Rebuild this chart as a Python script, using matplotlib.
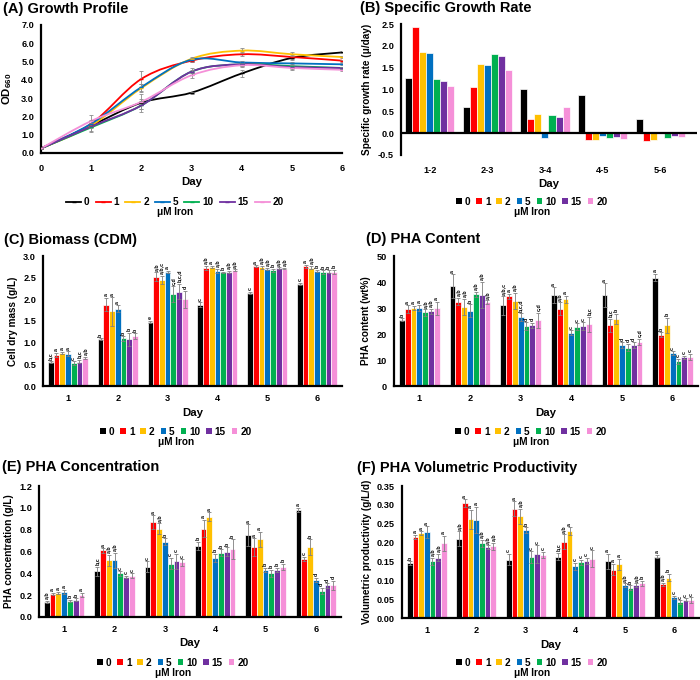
import matplotlib
matplotlib.use("Agg")
import matplotlib.pyplot as plt
import numpy as np
from matplotlib.path import Path
from matplotlib.patches import PathPatch
from matplotlib.lines import Line2D
from matplotlib.patches import Patch

plt.rcParams["font.family"] = ["Liberation Sans", "DejaVu Sans"]
plt.rcParams["font.weight"] = "bold"
plt.rcParams["axes.labelweight"] = "bold"
plt.rcParams["mathtext.fontset"] = "custom"
plt.rcParams["mathtext.rm"] = "Liberation Sans:bold"
plt.rcParams["mathtext.bf"] = "Liberation Sans:bold"

iron = ["0", "1", "2", "5", "10", "15", "20"]
colors = ["#000000", "#FF0000", "#FFC000", "#0070C0", "#00B050", "#7030A0", "#F590D8"]

# (A) growth profile, OD660 per day 0..6, one row per iron level
growth_days = [0, 1, 2, 3, 4, 5, 6]
od = [
    [0.25, 1.50, 2.75, 3.30, 4.35, 5.20, 5.50],
    [0.25, 1.60, 4.05, 5.05, 5.40, 5.25, 5.05],
    [0.25, 1.50, 3.55, 5.15, 5.60, 5.40, 5.25],
    [0.25, 1.60, 3.60, 5.10, 4.95, 4.90, 4.85],
    [0.25, 1.40, 2.60, 4.45, 4.85, 4.75, 4.65],
    [0.25, 1.45, 2.60, 4.45, 4.85, 4.70, 4.65],
    [0.25, 1.75, 2.80, 4.25, 4.80, 4.65, 4.55],
]
od_err = [
    [0.02, 0.10, 0.10, 0.05, 0.20, 0.10, 0.05],
    [0.02, 0.15, 0.45, 0.10, 0.10, 0.10, 0.05],
    [0.02, 0.15, 0.20, 0.10, 0.15, 0.10, 0.05],
    [0.02, 0.20, 0.20, 0.10, 0.10, 0.10, 0.05],
    [0.02, 0.20, 0.20, 0.10, 0.10, 0.10, 0.05],
    [0.02, 0.30, 0.35, 0.20, 0.10, 0.10, 0.05],
    [0.02, 0.35, 0.40, 0.15, 0.10, 0.10, 0.05],
]

# (B) specific growth rate
rate_periods = ["1-2", "2-3", "3-4", "4-5", "5-6"]
rate = [
    [1.27, 0.60, 1.02, 0.88, 0.32],
    [2.43, 1.05, 0.32, -0.15, -0.17],
    [1.86, 1.58, 0.43, -0.15, -0.15],
    [1.83, 1.55, -0.12, -0.06, 0.00],
    [1.23, 1.82, 0.41, -0.11, -0.11],
    [1.19, 1.77, 0.36, -0.08, -0.06],
    [1.09, 1.45, 0.59, -0.13, -0.09],
]

days = ["1", "2", "3", "4", "5", "6"]

# (C) cell dry mass g/L
cdm = [
    [0.55, 1.08, 1.48, 1.88, 2.15, 2.35],
    [0.72, 1.88, 2.52, 2.73, 2.77, 2.76],
    [0.76, 1.72, 2.45, 2.75, 2.74, 2.73],
    [0.75, 1.78, 2.63, 2.66, 2.70, 2.65],
    [0.53, 1.10, 2.12, 2.62, 2.67, 2.63],
    [0.56, 1.08, 2.18, 2.63, 2.72, 2.64],
    [0.65, 1.15, 2.00, 2.67, 2.71, 2.63],
]
cdm_err = [
    [0.02, 0.02, 0.02, 0.05, 0.03, 0.03],
    [0.05, 0.15, 0.10, 0.05, 0.02, 0.04],
    [0.03, 0.33, 0.10, 0.02, 0.04, 0.04],
    [0.05, 0.08, 0.03, 0.05, 0.03, 0.03],
    [0.04, 0.05, 0.18, 0.02, 0.03, 0.04],
    [0.04, 0.15, 0.18, 0.03, 0.02, 0.03],
    [0.02, 0.07, 0.20, 0.02, 0.02, 0.05],
]
cdm_sig = [
    ["b,c", "b", "e", "c", "c", "c"],
    ["a", "a", "a,b", "a,b", "a", "a"],
    ["a", "a", "a,b,c", "a", "a,b", "a,b"],
    ["a", "a", "a", "a,b", "a,b", "b"],
    ["c", "b", "c,d", "b", "b", "b"],
    ["b,c", "b", "b,c,d", "a,b", "a,b", "b"],
    ["a,b", "b", "d", "a,b", "a,b", "b"],
]

# (D) PHA content wt%
pha_content = [
    [25.5, 38.5, 31.0, 35.0, 35.0, 41.7],
    [29.5, 32.5, 34.5, 29.7, 23.3, 19.7],
    [30.0, 30.5, 32.8, 33.3, 25.8, 23.3],
    [30.0, 29.0, 26.5, 20.5, 15.8, 12.7],
    [28.3, 35.3, 23.0, 22.8, 14.8, 9.5],
    [28.8, 35.0, 23.3, 23.0, 15.8, 11.0],
    [30.0, 32.3, 25.2, 23.7, 17.0, 11.2],
]
pha_content_err = [
    [0.5, 4.5, 3.5, 3.0, 4.5, 1.5],
    [1.5, 1.5, 1.0, 2.5, 2.5, 1.0],
    [0.8, 3.0, 3.0, 1.3, 2.0, 3.0],
    [1.2, 2.5, 1.5, 1.0, 1.0, 0.7],
    [1.2, 1.0, 1.5, 1.3, 1.5, 1.0],
    [1.0, 5.0, 1.0, 1.5, 1.0, 0.7],
    [2.5, 0.7, 3.0, 3.0, 1.2, 1.2],
]
pha_content_sig = [
    ["b", "a", "a,b,c", "a", "a", "a"],
    ["a", "a,b", "a", "a,b", "b,c", "b"],
    ["a", "a,b", "a,b", "a", "b", "b"],
    ["a", "b", "b,c,d", "c", "d", "c"],
    ["a,b", "a,b", "d", "c", "d", "c"],
    ["a,b", "a,b", "d", "c", "d", "c"],
    ["a", "a,b", "c,d", "b,c", "c,d", "c"],
]

# (E) PHA concentration g/L
pha_conc = [
    [0.14, 0.42, 0.46, 0.65, 0.75, 0.98],
    [0.21, 0.61, 0.87, 0.81, 0.64, 0.53],
    [0.22, 0.52, 0.81, 0.92, 0.71, 0.64],
    [0.23, 0.52, 0.69, 0.54, 0.43, 0.34],
    [0.15, 0.40, 0.49, 0.59, 0.40, 0.24],
    [0.16, 0.37, 0.51, 0.60, 0.43, 0.29],
    [0.20, 0.38, 0.50, 0.62, 0.46, 0.29],
]
pha_conc_err = [
    [0.01, 0.04, 0.05, 0.04, 0.10, 0.02],
    [0.01, 0.02, 0.06, 0.08, 0.08, 0.02],
    [0.01, 0.05, 0.05, 0.04, 0.07, 0.07],
    [0.02, 0.07, 0.03, 0.04, 0.02, 0.02],
    [0.01, 0.02, 0.05, 0.03, 0.03, 0.03],
    [0.01, 0.01, 0.07, 0.04, 0.02, 0.02],
    [0.02, 0.02, 0.03, 0.09, 0.03, 0.04],
]
pha_conc_sig = [
    ["a,b", "b,c", "c", "b", "a", "a"],
    ["a", "a", "a", "a", "a", "c"],
    ["a", "a,b", "a,b", "a", "a", "b"],
    ["a", "a,b", "b", "b", "b", "d"],
    ["b", "c", "c", "b", "b", "d"],
    ["b", "c", "c", "b", "b", "d"],
    ["a", "c", "c", "b", "b", "d"],
]

# (F) volumetric productivity g/L/d
prod = [
    [0.145, 0.210, 0.155, 0.163, 0.150, 0.163],
    [0.215, 0.305, 0.290, 0.202, 0.128, 0.090],
    [0.225, 0.262, 0.270, 0.230, 0.142, 0.107],
    [0.228, 0.260, 0.233, 0.137, 0.087, 0.055],
    [0.150, 0.198, 0.162, 0.148, 0.080, 0.042],
    [0.160, 0.188, 0.170, 0.151, 0.087, 0.048],
    [0.198, 0.190, 0.168, 0.157, 0.092, 0.048],
]
prod_err = [
    [0.005, 0.020, 0.015, 0.010, 0.020, 0.005],
    [0.005, 0.010, 0.020, 0.020, 0.015, 0.004],
    [0.005, 0.025, 0.020, 0.010, 0.015, 0.010],
    [0.015, 0.035, 0.008, 0.010, 0.005, 0.004],
    [0.010, 0.010, 0.015, 0.007, 0.007, 0.005],
    [0.010, 0.005, 0.023, 0.008, 0.005, 0.004],
    [0.020, 0.010, 0.008, 0.022, 0.007, 0.007],
]
prod_sig = [
    ["b", "a,b", "c", "b,c", "a", "a"],
    ["a", "a", "a", "a,b", "a", "a,b"],
    ["a", "a", "a,b", "a", "a", "b"],
    ["a", "a", "b", "c", "a,b", "c"],
    ["a,b", "a,b", "c", "c", "b", "c"],
    ["a,b", "a,b", "c", "c", "a,b", "c"],
    ["a", "a,b", "c", "c", "b", "c"],
]

W, H = 700, 680
TICK = 6.6
LABEL = 8.2
YLABEL = 7.2
LEG = 7.2
fig = plt.figure(figsize=(7, 6.8), dpi=100)


def add_axes(left, right, top, bottom):
    return fig.add_axes([left / W, 1 - bottom / H, (right - left) / W, (bottom - top) / H])


def style_axes(ax):
    for s in ("top", "right"):
        ax.spines[s].set_visible(False)
    for s in ("left", "bottom"):
        ax.spines[s].set_linewidth(1.6)
    ax.tick_params(length=0, labelsize=TICK, pad=5)
    ax.tick_params(axis="x", pad=6)
    for t in ax.get_xticklabels() + ax.get_yticklabels():
        t.set_fontweight("bold")


def title(x, y, text):
    fig.text(x / W, 1 - y / H, text, fontsize=10.5, fontweight="bold", ha="left", va="center")


def legend(handles, cx, cy, bar=True):
    fig.legend(handles=handles, loc="center", bbox_to_anchor=(cx / W, 1 - cy / H), ncol=7,
               frameon=False, handlelength=0.55 if bar else 1.5, handleheight=0.55,
               handletextpad=0.3, columnspacing=0.6, borderpad=0,
               prop={"weight": "bold", "size": LEG})
    fig.text(cx / W, 1 - (cy + 10) / H, "μM Iron", fontsize=LEG, fontweight="bold", ha="center", va="center")


def smooth_path(x, y):
    # Excel-style smoothed line: cardinal spline as cubic Bezier segments
    x = np.asarray(x, float)
    y = np.asarray(y, float)
    pts = np.column_stack([x, y])
    verts = [pts[0]]
    codes = [Path.MOVETO]
    n = len(pts)
    for i in range(n - 1):
        p0 = pts[i - 1] if i > 0 else pts[i]
        p1 = pts[i]
        p2 = pts[i + 1]
        p3 = pts[i + 2] if i + 2 < n else pts[i + 1]
        c1 = p1 + (p2 - p0) / 6
        c2 = p2 - (p3 - p1) / 6
        verts += [c1, c2, p2]
        codes += [Path.CURVE4] * 3
    return Path(verts, codes)


bar_handles = [Patch(facecolor=c, edgecolor="none", label=l) for c, l in zip(colors, iron)]


def bar_panel(ax, values, errors, sig, ylim, yticks, fmt, ylabel):
    slot = 0.115
    xs = np.arange(1, len(days) + 1)
    span = ylim[1] - ylim[0]
    for i, (vals, errs, labs) in enumerate(zip(values, errors, sig)):
        x = xs + (i - 3) * slot
        ax.bar(x, vals, width=slot, color=colors[i], edgecolor="white", linewidth=0.5, zorder=2)
        ax.errorbar(x, vals, yerr=errs, fmt="none", ecolor="#7f7f7f", elinewidth=0.6,
                    capsize=1.2, capthick=0.6, zorder=3)
        for xi, v, e, lab in zip(x, vals, errs, labs):
            ax.text(xi, v + e + 0.012 * span, lab, rotation=90, fontsize=3.8, ha="center",
                    va="bottom", fontweight="bold")
    ax.set_xlim(0.5, len(days) + 0.5)
    ax.set_xticks(xs)
    ax.set_xticklabels(days)
    ax.set_ylim(*ylim)
    ax.set_yticks(yticks)
    ax.set_yticklabels([fmt.format(t) for t in yticks])
    ax.set_xlabel("Day", fontsize=LABEL, fontweight="bold", labelpad=3)
    ax.set_ylabel(ylabel, fontsize=YLABEL, fontweight="bold", labelpad=4)
    style_axes(ax)


# (A)
axA = add_axes(41, 342, 25, 153)
for i in range(len(iron)):
    axA.add_patch(PathPatch(smooth_path(growth_days, od[i]), facecolor="none",
                            edgecolor=colors[i], linewidth=1.3, zorder=2))
    axA.errorbar(growth_days, od[i], yerr=od_err[i], fmt="none", ecolor="#8c8c8c",
                 elinewidth=0.6, capsize=1.2, capthick=0.6, zorder=3)
    axA.plot(growth_days, od[i], linestyle="none", marker="_", markersize=3,
             color=colors[i], zorder=4)
axA.set_xlim(0, 6)
axA.set_ylim(0, 7)
axA.set_xticks(growth_days)
axA.set_yticks(np.arange(0, 8))
axA.set_yticklabels([f"{t:.1f}" for t in np.arange(0, 8)])
axA.set_xlabel("Day", fontsize=LABEL, fontweight="bold", labelpad=3)
axA.set_ylabel(r"OD$_{660}$", fontsize=LABEL, fontweight="bold", labelpad=5)
style_axes(axA)
axA.tick_params(axis="x", pad=8)
title(3, 9, "(A) Growth Profile")
line_handles = [Line2D([], [], color=c, lw=1.3, marker="_", ms=3, label=l) for c, l in zip(colors, iron)]
legend(line_handles, 175, 202, bar=False)

# (B)
axB = add_axes(401, 697, 24, 155)
xb = np.arange(1, len(rate_periods) + 1)
slotb = 0.122
for i in range(len(iron)):
    axB.bar(xb + (i - 3) * slotb, rate[i], width=slotb, color=colors[i], edgecolor="white",
            linewidth=0.5, zorder=2)
axB.axhline(0, color="black", linewidth=1.6, zorder=3)
axB.set_xlim(0.5, 5.64)
axB.set_ylim(-0.5, 2.5)
axB.set_xticks(xb)
axB.set_xticklabels(rate_periods)
yb = np.arange(-0.5, 2.51, 0.5)
axB.set_yticks(yb)
axB.set_yticklabels([f"{t:.1f}" for t in yb])
axB.set_xlabel("Day", fontsize=LABEL, fontweight="bold", labelpad=3)
axB.set_ylabel("Specific growth rate (μ/day)", fontsize=YLABEL, fontweight="bold", labelpad=4)
style_axes(axB)
axB.spines["bottom"].set_visible(False)
axB.tick_params(axis="x", pad=8)
title(360, 8, "(B) Specific Growth Rate")
legend(bar_handles, 532, 202)

# (C)
axC = add_axes(43, 342, 256, 386)
bar_panel(axC, cdm, cdm_err, cdm_sig, (0, 3.0), np.arange(0, 3.01, 0.5), "{:.1f}", "Cell dry mass (g/L)")
title(4, 240, "(C) Biomass (CDM)")
legend(bar_handles, 176, 432)

# (D)
axD = add_axes(394, 698, 256, 386)
bar_panel(axD, pha_content, pha_content_err, pha_content_sig, (0, 50), np.arange(0, 51, 10), "{:.0f}",
          "PHA content (wt%)")
title(366, 239, "(D) PHA Content")
legend(bar_handles, 531, 432)

# (E)
axE = add_axes(39, 341, 486, 617)
bar_panel(axE, pha_conc, pha_conc_err, pha_conc_sig, (0, 1.2), np.arange(0, 1.21, 0.2), "{:.1f}",
          "PHA concentration (g/L)")
title(2, 467, "(E) PHA Concentration")
legend(bar_handles, 173, 663)

# (F)
axF = add_axes(402, 699, 486, 618)
bar_panel(axF, prod, prod_err, prod_sig, (0, 0.35), np.arange(0, 0.351, 0.05), "{:.2f}",
          "Volumetric productivity (g/L/d)")
title(357, 468, "(F) PHA Volumetric Productivity")
legend(bar_handles, 532, 663)

fig.savefig("out.png", dpi=100)
